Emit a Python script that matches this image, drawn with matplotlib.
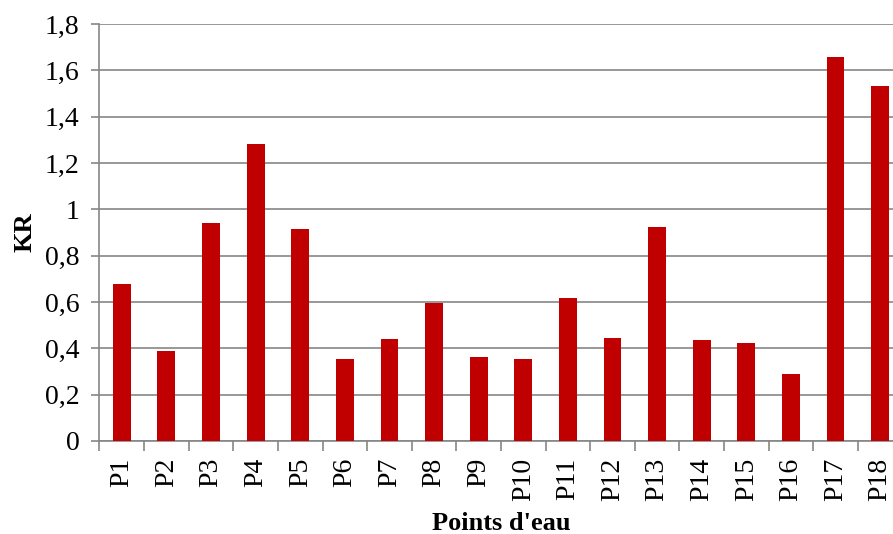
import matplotlib.pyplot as plt
import numpy as np

points = ['P1', 'P2', 'P3', 'P4', 'P5', 'P6', 'P7', 'P8', 'P9',
          'P10', 'P11', 'P12', 'P13', 'P14', 'P15', 'P16', 'P17', 'P18']
kr = [0.678, 0.388, 0.94, 1.28, 0.914, 0.353, 0.439, 0.597, 0.364,
      0.353, 0.619, 0.443, 0.925, 0.435, 0.422, 0.29, 1.657, 1.534]
y_ticks = [0, 0.2, 0.4, 0.6, 0.8, 1.0, 1.2, 1.4, 1.6, 1.8]
y_labels = ['0', '0,2', '0,4', '0,6', '0,8', '1', '1,2', '1,4', '1,6', '1,8']

plt.rcParams['font.family'] = ['Liberation Serif', 'DejaVu Serif']
grey = '#868686'

fig = plt.figure(figsize=(8.93, 5.34), dpi=100)
ax = fig.add_axes([0.1114, 0.1742, 0.8992, 0.7809])

x = np.arange(len(points))
ax.bar(x, kr, width=0.4, color='#C00000', zorder=3)

ax.set_xlim(-0.5, len(points) - 0.5)
ax.set_ylim(0, 1.8)
ax.set_yticks(y_ticks)
ax.set_yticklabels(y_labels, fontsize=20)
ax.yaxis.grid(True, color=grey, linewidth=1.2, zorder=0)

# category labels sit between boundary ticks
ax.set_xticks(x)
ax.set_xticklabels(points, rotation=90, fontsize=20)
ax.tick_params(axis='x', length=0, pad=12)
ax.set_xticks(np.arange(len(points) + 1) - 0.5, minor=True)
ax.tick_params(axis='x', which='minor', length=7, width=1.2, color=grey)
ax.tick_params(axis='y', length=6, width=1.2, color=grey, pad=8.5)

for side in ['top', 'right']:
    ax.spines[side].set_visible(False)
for side in ['left', 'bottom']:
    ax.spines[side].set_color(grey)
    ax.spines[side].set_linewidth(1.2)

ax.set_ylabel('KR', fontsize=19, fontweight='bold', labelpad=6)
ax.set_xlabel("Points d'eau", fontsize=19, fontweight='bold', labelpad=8)

fig.savefig('out.png', dpi=100)
